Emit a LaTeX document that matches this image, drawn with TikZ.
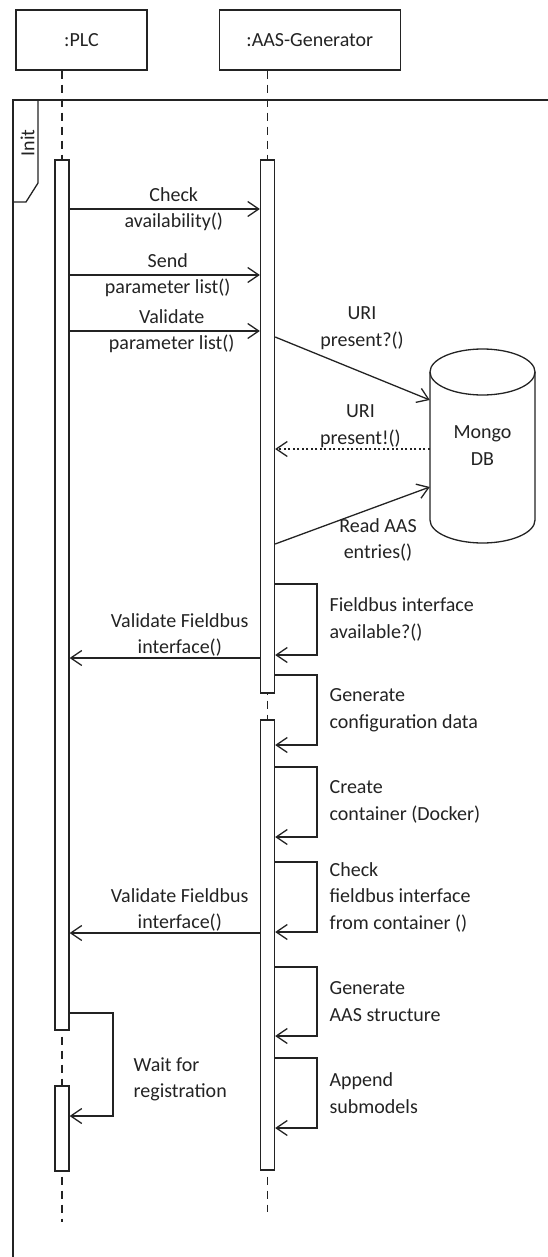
\documentclass[tikz,border=0pt]{standalone}
\usepackage{fontspec}
\setmainfont{Carlito}
\usepackage{xcolor}
\usepackage{tikz}
\usetikzlibrary{positioning, arrows.meta, calc}
\definecolor{ink}{RGB}{35,35,35}
\tikzset{
  arr/.style={-{Straight Barb[length=11pt,width=15pt]}, line width=1.3pt, draw=ink},
  rarr/.style={-{Straight Barb[length=11pt,width=15pt]}, line width=1.3pt, draw=ink,
    dash pattern=on 2pt off 2.5pt},
  head/.style={draw=ink, line width=1.3pt, minimum height=60pt, inner sep=0pt},
  act/.style={draw=ink, line width=1.3pt, fill=white, minimum width=14pt, inner sep=0pt},
  life/.style={draw=ink, line width=1.2pt, dash pattern=on 8pt off 6pt},
  lab/.style={align=center, inner sep=1pt, text=ink},
  llab/.style={align=left, inner sep=0pt, text=ink},
  frm/.style={draw=ink, line width=1.3pt}
}

\begin{document}
\begin{tikzpicture}[x=1pt, y=-1pt, font=\fontsize{20}{26.5}\selectfont, text=ink]
  \useasboundingbox (0,0) rectangle (547,1257);
  \node[head, minimum width=131pt] (plc) at (81.5,40) {:PLC};
  \node[head, minimum width=181pt, right=71pt of plc] (gen) {:AAS-Generator};

  \coordinate (pe) at (62,1222);
  \coordinate (ge) at (267.5,1212);
  \draw[life] (pe |- plc.south) -- (pe);
  \draw[life] (ge |- gen.south) -- (ge);

  \draw[frm] (550,100) -- (13,100) -- (13,1260);
  \draw[frm] (38,100) -- (38,183) -- (26,202) -- (13,202);
  \node[rotate=90] (tag) at (27.5,143) {Init};

  \node[act, minimum height=870pt] (p1) at (62,595) {};
  \node[act, minimum height=85pt] (p2) at (62,1128.5) {};
  \node[act, minimum height=533pt] (g1) at (267.5,426.5) {};
  \node[act, minimum height=450pt] (g2) at (267.5,945) {};

  \draw[frm, fill=white] (430,372) -- (430,520)
    arc[start angle=180, end angle=0, x radius=52.5, y radius=23] -- (535,372);
  \draw[frm] (482.5,372) ellipse[x radius=52.5, y radius=23];
  \node[align=center, minimum width=105pt, minimum height=193pt, inner sep=0pt] (db)
    at (482.5,445.5) {Mongo\\DB};

  \coordinate (gx) at (317,0);
  \coordinate (px) at (113,0);

  \draw[arr] (p1.east |- 0,209) -- node[lab, xshift=9pt] (l1) {Check\\availability()} (g1.west |- 0,209);
  \draw[arr] (p1.east |- 0,275) -- node[lab, xshift=3pt] (l2) {Send\\parameter list()} (g1.west |- 0,275);
  \draw[arr] (p1.east |- 0,331) -- node[lab, xshift=7pt] (l3) {Validate\\parameter list()} (g1.west |- 0,331);

  \draw[arr] (g1.east |- 0,337) -- (db.west |- 0,400);
  \node[lab] (l4) at (362,328) {URI\\present?()};
  \draw[rarr] (db.west |- 0,449) -- node[lab, above, xshift=8pt] (l5) {URI\\present!()} (g1.east |- 0,449);
  \draw[arr] (g1.east |- 0,544) -- (db.west |- 0,487);
  \node[lab] (l6) at (378,540) {Read AAS\\entries()};

  \draw[arr] (g1.east |- 0,584) -- (gx |- 0,584)
    -- node[llab, right=12pt] (l7) {Fieldbus interface\\available?()} (gx |- 0,655) -- (g1.east |- 0,655);
  \draw[arr] (g1.west |- 0,658) -- node[lab, above, xshift=15pt] (l8) {Validate Fieldbus\\interface()} (p1.east |- 0,658);
  \draw[arr] (g1.east |- 0,675) -- (gx |- 0,675)
    -- node[llab, right=12pt] (l9) {Generate\\configuration data} (gx |- 0,745) -- (g2.east |- 0,745);
  \draw[arr] (g2.east |- 0,767) -- (gx |- 0,767)
    -- node[llab, right=12pt] (l10) {Create\\container (Docker)} (gx |- 0,837) -- (g2.east |- 0,837);
  \draw[arr] (g2.east |- 0,862) -- (gx |- 0,862)
    -- node[llab, right=12pt] (l11) {Check\\fieldbus interface\\from container ()} (gx |- 0,932) -- (g2.east |- 0,932);
  \draw[arr] (g2.west |- 0,933) -- node[lab, above, xshift=15pt] (l12) {Validate Fieldbus\\interface()} (p1.east |- 0,933);
  \draw[arr] (g2.east |- 0,967) -- (gx |- 0,967)
    -- node[llab, right=12pt] (l13) {Generate\\AAS structure} (gx |- 0,1036) -- (g2.east |- 0,1036);
  \draw[arr] (g2.east |- 0,1058) -- (gx |- 0,1058)
    -- node[llab, right=12pt] (l14) {Append\\submodels} (gx |- 0,1128) -- (g2.east |- 0,1128);
  \draw[arr] (p1.east |- 0,1013) -- (px |- 0,1013)
    -- node[llab, right=20pt, yshift=-15pt] (l15) {Wait for\\registration} (px |- 0,1116) -- (p2.east |- 0,1116);
\end{tikzpicture}
\end{document}
